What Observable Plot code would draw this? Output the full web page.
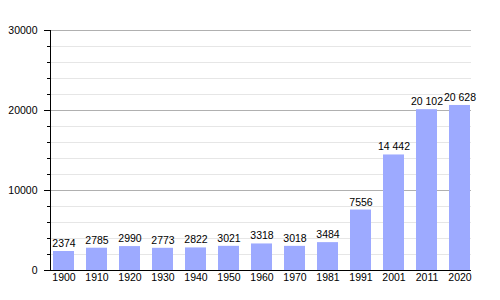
<!DOCTYPE html>
<html>
<head>
<meta charset="utf-8">
<script src="https://cdn.jsdelivr.net/npm/d3@7"></script>
<script src="https://cdn.jsdelivr.net/npm/@observablehq/plot@0.6"></script>
<style>
  html, body { margin: 0; padding: 0; background: #fff; }
  #chart svg { display: block; }
</style>
</head>
<body>
<div id="chart"></div>
<script>
const years = ["1900","1910","1920","1930","1940","1950","1960","1970","1981","1991","2001","2011","2020"];
const population = [2374, 2785, 2990, 2773, 2822, 3021, 3318, 3018, 3484, 7556, 14442, 20102, 20628];
const valueLabels = ["2374","2785","2990","2773","2822","3021","3318","3018","3484","7556","14\u00a0442","20\u00a0102","20\u00a0628"];
const majorTicks = [0, 10000, 20000, 30000];
const minorTicks = d3.range(0, 30001, 2000).filter(v => v % 10000 !== 0);

const data = years.map((y, i) => ({year: y, pop: population[i], label: valueLabels[i]}));

const chart = Plot.plot({
  width: 500,
  height: 300,
  marginTop: 30,
  marginBottom: 30,
  marginLeft: 50,
  marginRight: 29,
  style: {fontFamily: "'Liberation Sans', Arial, sans-serif", fontSize: "10.5px", color: "#000", background: "#fff"},
  x: {type: "band", domain: years, range: [51, 471], paddingInner: 0.376, paddingOuter: 0, label: null},
  y: {domain: [0, 30000], label: null},
  marks: [
    Plot.ruleY(minorTicks, {stroke: "#e6e6e6", strokeWidth: 1}),
    Plot.ruleY(majorTicks.filter(v => v > 0), {stroke: "#b0b0b0", strokeWidth: 1}),
    Plot.barY(data, {x: "year", y: "pop", fill: "#9daaff"}),
    Plot.text(data, {x: "year", y: "pop", text: "label", lineAnchor: "bottom", dy: -4.5, fill: "#000"}),
    Plot.axisY(minorTicks, {tickSize: 3, text: null, stroke: "#000", label: null}),
    Plot.axisY(majorTicks, {tickSize: 6, tickPadding: 7, tickFormat: d => String(d), stroke: "#000", label: null}),
    Plot.axisX({tickSize: 0, tickPadding: 3, label: null}),
    Plot.frame({anchor: "left", stroke: "#000"}),
    Plot.ruleY([0], {stroke: "#000"})
  ]
});
document.getElementById("chart").appendChild(chart);
</script>
</body>
</html>
